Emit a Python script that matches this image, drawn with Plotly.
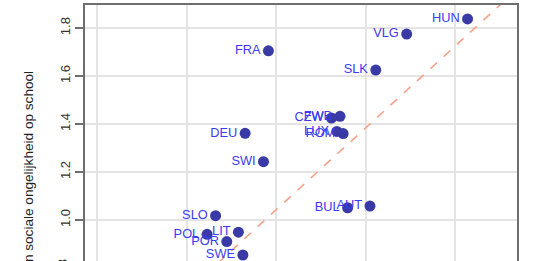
import plotly.graph_objects as go

countries = ["HUN", "VLG", "SLK", "FRA", "FWB", "CZW", "LUX", "ROM", "DEU", "SWI",
             "SLO", "LIT", "POL", "POR", "SWE", "BUL", "AUT"]
x_vals = [1.428, 1.292, 1.223, 0.983, 1.143, 1.124, 1.136, 1.150, 0.931, 0.972,
          0.865, 0.916, 0.846, 0.890, 0.926, 1.160, 1.210]
y_vals = [1.838, 1.775, 1.625, 1.705, 1.432, 1.425, 1.369, 1.360, 1.361, 1.243,
          1.018, 0.949, 0.940, 0.910, 0.854, 1.051, 1.058]

y_ticks = [0.8, 1.0, 1.2, 1.4, 1.6, 1.8]
x_grid = [0.6, 0.8, 1.0, 1.2, 1.4]
x_range = [0.5732, 1.5385]
y_range = [0.829, 1.896]

line_intercept = -0.664
line_slope = 1.706

y_title = "Index van sociale ongelijkheid op school"

font_family = "Liberation Sans, Arial, sans-serif"

fig = go.Figure()

fig.add_trace(go.Scatter(
    x=x_range,
    y=[line_intercept + line_slope * v for v in x_range],
    mode="lines",
    line=dict(color="#f7a08a", width=1.6, dash="dash"),
    hoverinfo="skip",
    showlegend=False,
))

fig.add_trace(go.Scatter(
    x=x_vals, y=y_vals, mode="markers+text",
    text=countries, textposition="middle left",
    textfont=dict(family=font_family, size=12.8, color="#3b3bf2"),
    marker=dict(color="#3a3aa6", size=11, line=dict(width=0)),
    showlegend=False,
))

fig.update_layout(
    width=533, height=261,
    margin=dict(l=85, r=16, t=5, b=0),
    paper_bgcolor="white", plot_bgcolor="white",
    font=dict(family=font_family, size=12, color="#333333"),
    xaxis=dict(range=x_range, side="top", tickvals=x_grid, showticklabels=False,
               ticks="", showgrid=True, gridcolor="#e4e4e4", gridwidth=1.5,
               showline=True, linecolor="#6e6e6e", linewidth=1.5, zeroline=False),
    yaxis=dict(range=y_range, tickvals=y_ticks, ticktext=[f"{v:.1f}" for v in y_ticks],
               tickangle=-90, ticks="outside", ticklen=8, tickcolor="#6e6e6e",
               tickwidth=1.5, showgrid=True, gridcolor="#e4e4e4", gridwidth=1.5,
               showline=True, mirror=True, linecolor="#6e6e6e", linewidth=1.5,
               zeroline=False, tickfont=dict(size=13, color="#333333")),
)

# partially visible lowest tick label (below the visible window)
fig.add_annotation(text=f"{y_ticks[0]:.1f}", xref="paper", yref="paper",
                   x=(62 - 85) / 432, y=(261 - 268) / 256, showarrow=False,
                   textangle=-90, font=dict(size=13, color="#333333"),
                   xanchor="center", yanchor="middle")

fig.add_annotation(text=y_title, xref="paper", yref="paper",
                   x=(28 - 85) / 432, y=(261 - 69) / 256, showarrow=False,
                   textangle=-90, font=dict(size=13.6, color="#222222"),
                   xanchor="center", yanchor="top")

fig.write_html("out.html")
